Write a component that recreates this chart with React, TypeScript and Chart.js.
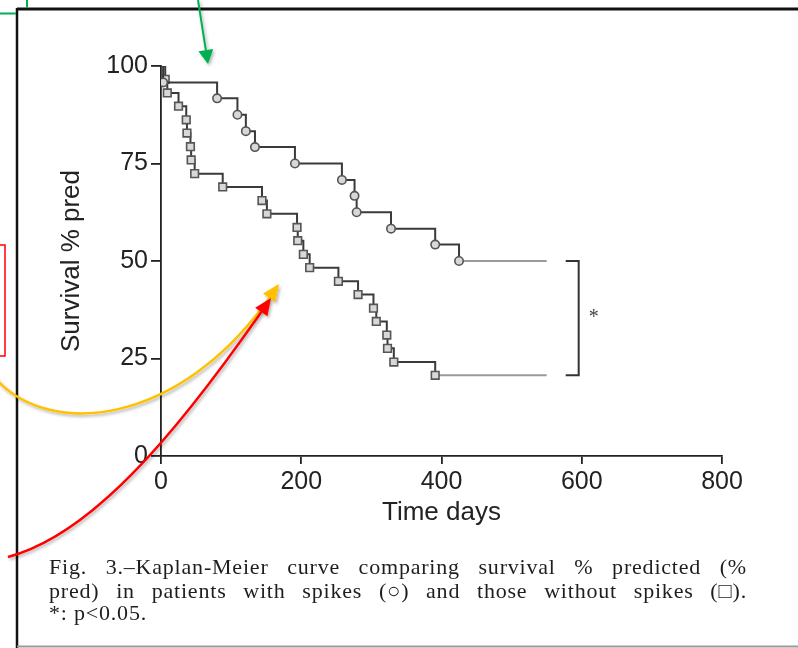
import React, { useEffect, useRef } from "react";
import { Chart, registerables } from "chart.js";

Chart.register(...registerables);

// ---- data ----
const spikeDays = [0, 3, 80, 109, 121, 134, 191, 258, 276, 279, 328, 391, 425, 550];
const spikeSurvival = [100, 95.8, 91.7, 87.5, 83.3, 79.2, 75, 70.8, 66.7, 62.5, 58.3, 54.2, 50, 50];

const noSpikeDays = [0, 6, 9, 25, 36, 37, 42, 43, 48, 88, 144, 151, 194, 195, 203, 212, 253, 281, 303, 307, 322, 323, 332, 391, 550];
const noSpikeSurvival = [100, 96.6, 93.1, 89.7, 86.2, 82.8, 79.3, 75.9, 72.4, 69.0, 65.5, 62.1, 58.6, 55.2, 51.7, 48.3, 44.8, 41.4, 37.9, 34.5, 31.0, 27.6, 24.1, 20.7, 20.7];

const xTicks = [0, 200, 400, 600, 800];
const yTicks = [0, 25, 50, 75, 100];
const xTitle = "Time days";
const yTitle = "Survival % pred";
const significanceMark = "*";
// caption lines; odd-indexed pieces must not be stretched apart
const captionLines: string[][] = [
  ["Fig. ", "3.\u2013Kaplan-Meier", " curve comparing survival % predicted (%"],
  ["pred) in patients with spikes ", "(\u25CB)", " and those without spikes ", "(\u25A1).", ""],
  ["*: p<0.05."],
];

const SANS = "'Liberation Sans', Arial, Helvetica, sans-serif";
const INK = "#222";

function toPoints(xs: number[], ys: number[]) {
  return xs.map((x, i) => ({ x, y: ys[i] }));
}

const bracketPlugin = {
  id: "bracket",
  afterDatasetsDraw(chart: any) {
    const { ctx, scales } = chart;
    const x = scales.x;
    const y = scales.y;
    const yTop = y.getPixelForValue(spikeSurvival[spikeSurvival.length - 1]);
    const yBot = y.getPixelForValue(noSpikeSurvival[noSpikeSurvival.length - 1]);
    const xEnd = x.getPixelForValue(Math.max(spikeDays[spikeDays.length - 1], noSpikeDays[noSpikeDays.length - 1]));
    const xV = xEnd + 32;
    ctx.save();
    ctx.strokeStyle = "#333";
    ctx.lineWidth = 2;
    ctx.beginPath();
    ctx.moveTo(xV - 13, yTop);
    ctx.lineTo(xV, yTop);
    ctx.lineTo(xV, yBot);
    ctx.lineTo(xV - 13, yBot);
    ctx.stroke();
    ctx.fillStyle = "#444";
    ctx.font = "20px 'Liberation Serif', serif";
    ctx.textAlign = "center";
    ctx.textBaseline = "middle";
    ctx.fillText(significanceMark, xV + 15, (yTop + yBot) / 2);
    ctx.restore();
  },
};

function arrowHead(tip: [number, number], from: [number, number], len: number, width: number) {
  const dx = tip[0] - from[0];
  const dy = tip[1] - from[1];
  const n = Math.hypot(dx, dy);
  const ux = dx / n;
  const uy = dy / n;
  const bx = tip[0] - ux * len;
  const by = tip[1] - uy * len;
  const px = (-uy * width) / 2;
  const py = (ux * width) / 2;
  return {
    base: [bx, by] as [number, number],
    poly: `${tip[0]},${tip[1]} ${bx + px},${by + py} ${bx - px},${by - py}`,
  };
}

function Annotations() {
  const yellowTip: [number, number] = [279, 284];
  const yellowC2: [number, number] = [180, 425];
  const yh = arrowHead(yellowTip, yellowC2, 17, 15);
  const redTip: [number, number] = [271, 298];
  const redC2: [number, number] = [172, 440];
  const rh = arrowHead(redTip, redC2, 17, 15);
  const greenTip: [number, number] = [208, 64];
  const greenStart: [number, number] = [198, 0];
  const gh = arrowHead(greenTip, greenStart, 14, 15);
  return (
    <svg
      width={798}
      height={648}
      style={{ position: "absolute", left: 0, top: 0, pointerEvents: "none" }}
    >
      <defs>
        <filter id="sh" x="-20%" y="-20%" width="140%" height="140%">
          <feDropShadow dx="1.5" dy="2" stdDeviation="1.5" floodColor="#000" floodOpacity="0.3" />
        </filter>
      </defs>
      {/* page frame */}
      <line x1={17} y1={9} x2={798} y2={9} stroke="#111" strokeWidth={3} />
      <line x1={17} y1={8} x2={17} y2={648} stroke="#111" strokeWidth={2.5} />
      <line x1={17} y1={646.5} x2={798} y2={646.5} stroke="#9a9a9a" strokeWidth={2} />
      {/* green bits */}
      <line x1={0} y1={13.5} x2={16} y2={13.5} stroke="#00b050" strokeWidth={2} />
      <line x1={27} y1={0} x2={27} y2={8} stroke="#00b050" strokeWidth={2} />
      <g filter="url(#sh)">
        <line x1={greenStart[0]} y1={greenStart[1]} x2={gh.base[0]} y2={gh.base[1]} stroke="#00b050" strokeWidth={2} />
        <polygon points={gh.poly} fill="#00b050" />
      </g>
      {/* red box */}
      <polyline points="0,245 5,245 5,356 0,356" fill="none" stroke="#ff0000" strokeWidth={1.5} />
      {/* yellow curved arrow */}
      <g filter="url(#sh)">
        <path
          d={`M -5 378 C 50 440, ${yellowC2[0]} ${yellowC2[1]}, ${yh.base[0]} ${yh.base[1]}`}
          fill="none"
          stroke="#ffc000"
          strokeWidth={2.5}
        />
        <polygon points={yh.poly} fill="#ffc000" />
      </g>
      {/* red curved arrow */}
      <g filter="url(#sh)">
        <path
          d={`M 8 557 C 90 535, ${redC2[0]} ${redC2[1]}, ${rh.base[0]} ${rh.base[1]}`}
          fill="none"
          stroke="#ff0000"
          strokeWidth={2.5}
        />
        <polygon points={rh.poly} fill="#ff0000" />
      </g>
    </svg>
  );
}

export default function App() {
  const canvasRef = useRef<HTMLCanvasElement | null>(null);

  useEffect(() => {
    if (!canvasRef.current) return;
    const lastSeg = (n: number) => (ctx: any) =>
      ctx.p1DataIndex === n - 1 ? "#9a9a9a" : "#3a3a3a";
    const chart = new Chart(canvasRef.current, {
      type: "line",
      data: {
        datasets: [
          {
            label: "With spikes",
            data: toPoints(spikeDays, spikeSurvival),
            stepped: true,
            borderColor: "#3a3a3a",
            borderWidth: 2,
            segment: { borderColor: lastSeg(spikeDays.length) },
            pointStyle: "circle",
            pointRadius: (c: any) =>
              c.dataIndex === 0 || c.dataIndex === spikeDays.length - 1 ? 0 : 4.2,
            pointBorderColor: "#555",
            pointBackgroundColor: "#d8d8d8",
            pointBorderWidth: 1.6,
            fill: false,
          },
          {
            label: "Without spikes",
            data: toPoints(noSpikeDays, noSpikeSurvival),
            stepped: true,
            borderColor: "#3a3a3a",
            borderWidth: 2,
            segment: { borderColor: lastSeg(noSpikeDays.length) },
            pointStyle: "rect",
            pointRadius: (c: any) =>
              c.dataIndex === 0 || c.dataIndex === noSpikeDays.length - 1 ? 0 : 5.4,
            pointBorderColor: "#555",
            pointBackgroundColor: "#d8d8d8",
            pointBorderWidth: 1.6,
            fill: false,
          },
        ],
      },
      options: {
        animation: false,
        responsive: false,
        maintainAspectRatio: false,
        devicePixelRatio: 1,
        layout: { padding: { left: 0, right: 76, top: 66, bottom: 0 } },
        plugins: {
          legend: { display: false },
          tooltip: { enabled: false },
          title: { display: false },
        },
        scales: {
          x: {
            type: "linear",
            min: xTicks[0],
            max: xTicks[xTicks.length - 1],
            afterBuildTicks: (s: any) => {
              s.ticks = xTicks.map((v) => ({ value: v }));
            },
            afterFit: (s: any) => {
              s.height = 192;
            },
            grid: {
              drawOnChartArea: false,
              drawTicks: true,
              tickLength: 8,
              color: INK,
              lineWidth: 1.8,
            },
            border: { display: true, color: INK, width: 1.8 },
            ticks: {
              color: INK,
              padding: 3,
              maxRotation: 0,
              font: { family: SANS, size: 25 },
            },
            title: {
              display: true,
              text: xTitle,
              color: INK,
              font: { family: SANS, size: 26 },
              padding: { top: 0, bottom: 120 },
            },
          },
          y: {
            type: "linear",
            min: yTicks[0],
            max: yTicks[yTicks.length - 1],
            afterBuildTicks: (s: any) => {
              s.ticks = yTicks.map((v) => ({ value: v }));
            },
            afterFit: (s: any) => {
              s.width = 161;
            },
            grid: {
              drawOnChartArea: false,
              drawTicks: true,
              tickLength: 10,
              color: INK,
              lineWidth: 1.8,
            },
            border: { display: true, color: INK, width: 1.8 },
            ticks: {
              color: INK,
              padding: 3,
              font: { family: SANS, size: 25 },
            },
            title: {
              display: true,
              text: yTitle,
              color: INK,
              font: { family: SANS, size: 26 },
              padding: { top: 56, bottom: 0 },
            },
          },
        },
      },
      plugins: [bracketPlugin],
    } as any);
    return () => chart.destroy();
  }, []);

  return (
    <div
      style={{
        position: "fixed",
        left: 0,
        top: 0,
        width: 798,
        height: 648,
        background: "#fff",
        overflow: "hidden",
      }}
    >
      <canvas
        ref={canvasRef}
        width={798}
        height={648}
        style={{ position: "absolute", left: 0, top: 0, width: 798, height: 648 }}
      />
      <div
        style={{
          position: "absolute",
          left: 49,
          top: 555,
          width: 698,
          fontFamily: "'Liberation Serif', 'Times New Roman', serif",
          fontSize: 22,
          letterSpacing: "0.8px",
          lineHeight: "23px",
          color: "#1e1e1e",
        }}
      >
        {captionLines.map((pieces, i) => {
          const justify = i < captionLines.length - 1;
          return (
            <div
              key={i}
              style={{
                textAlign: justify ? "justify" : "left",
                textAlignLast: justify ? "justify" : "left",
                whiteSpace: "pre-wrap",
                height: i === 0 ? 24 : 22,
                overflow: "visible",
              } as any}
            >
              {pieces.map((p, j) =>
                j % 2 === 1 ? (
                  <span key={j} style={{ display: "inline-block", whiteSpace: "nowrap" }}>
                    {p}
                  </span>
                ) : (
                  <React.Fragment key={j}>{p}</React.Fragment>
                )
              )}
            </div>
          );
        })}
      </div>
      <Annotations />
    </div>
  );
}
